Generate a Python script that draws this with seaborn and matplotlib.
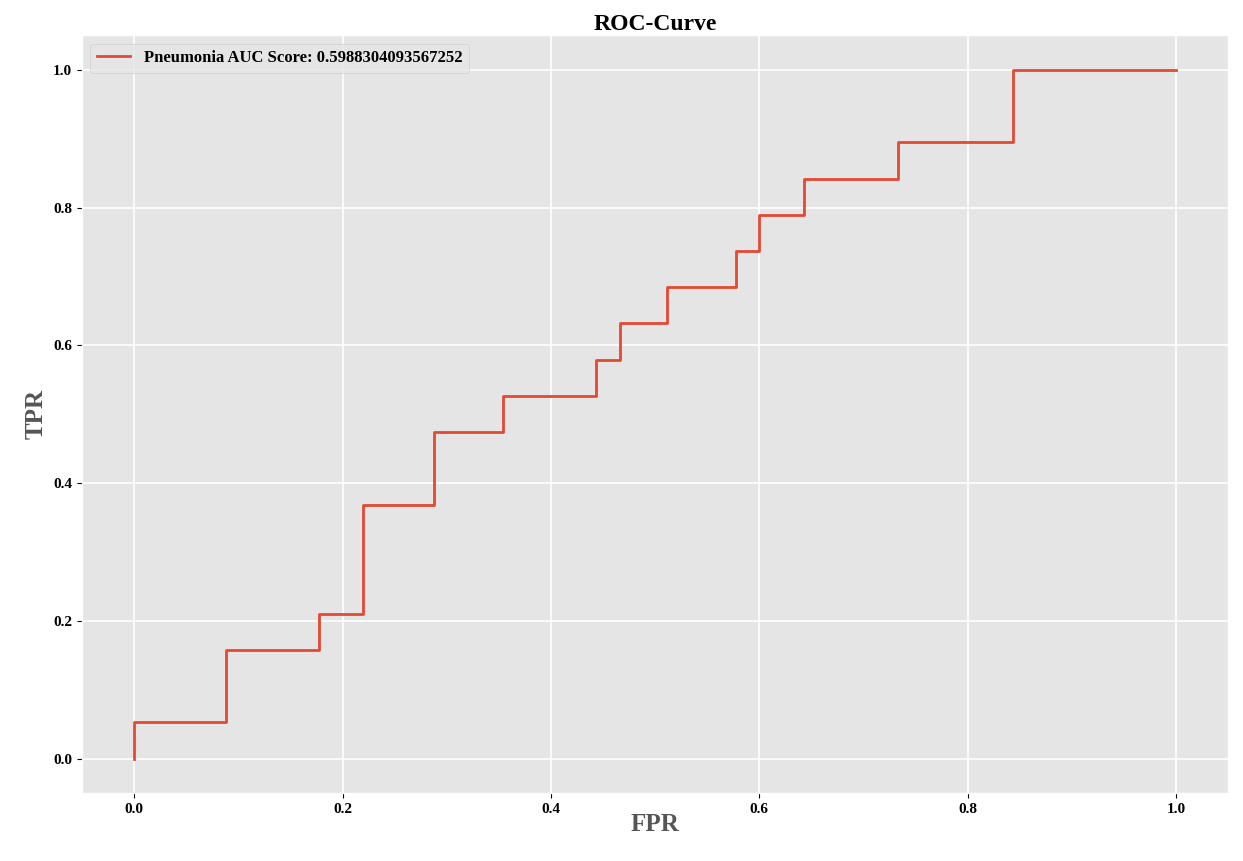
import matplotlib
matplotlib.use("Agg")
import matplotlib.pyplot as plt
import seaborn as sns

# --- DADOS ---
fpr = [0.0, 0.0, 0.088, 0.088, 0.177, 0.177, 0.220, 0.220, 0.288, 0.288,
       0.354, 0.354, 0.443, 0.443, 0.466, 0.466, 0.511, 0.511, 0.578, 0.578,
       0.600, 0.600, 0.643, 0.643, 0.733, 0.733, 0.844, 0.844, 1.0]
tpr = [0.0, 0.0526, 0.0526, 0.158, 0.158, 0.2105, 0.2105, 0.368, 0.368, 0.474,
       0.474, 0.526, 0.526, 0.579, 0.579, 0.632, 0.632, 0.684, 0.684, 0.737,
       0.737, 0.789, 0.789, 0.842, 0.842, 0.895, 0.895, 1.0, 1.0]
auc_label = "Pneumonia AUC Score: 0.5988304093567252"

plt.style.use("ggplot")
plt.rcParams['font.family'] = ['Liberation Serif', 'DejaVu Serif']
plt.rcParams['font.weight'] = 'bold'

fig, ax = plt.subplots(figsize=(12.43, 8.61), dpi=100)
fig.subplots_adjust(left=0.066, right=0.988, top=0.959, bottom=0.079)
sns.lineplot(x=fpr, y=tpr, sort=False, estimator=None, color="#E24A33",
             linewidth=2, label=auc_label, ax=ax)
ax.set_title("ROC-Curve", fontsize=17, fontweight='bold', pad=4)
ax.set_xlabel("FPR", fontsize=18, fontweight='bold', labelpad=-2)
ax.set_ylabel("TPR", fontsize=18, fontweight='bold')
ax.tick_params(labelsize=11, colors='black')
for t in ax.get_xticklabels() + ax.get_yticklabels():
    t.set_fontweight('bold')
ax.grid(color='white', linewidth=1.2)
leg = ax.legend(loc='upper left', fontsize=12)
for t in leg.get_texts():
    t.set_fontweight('bold')
fig.savefig("out.png")
